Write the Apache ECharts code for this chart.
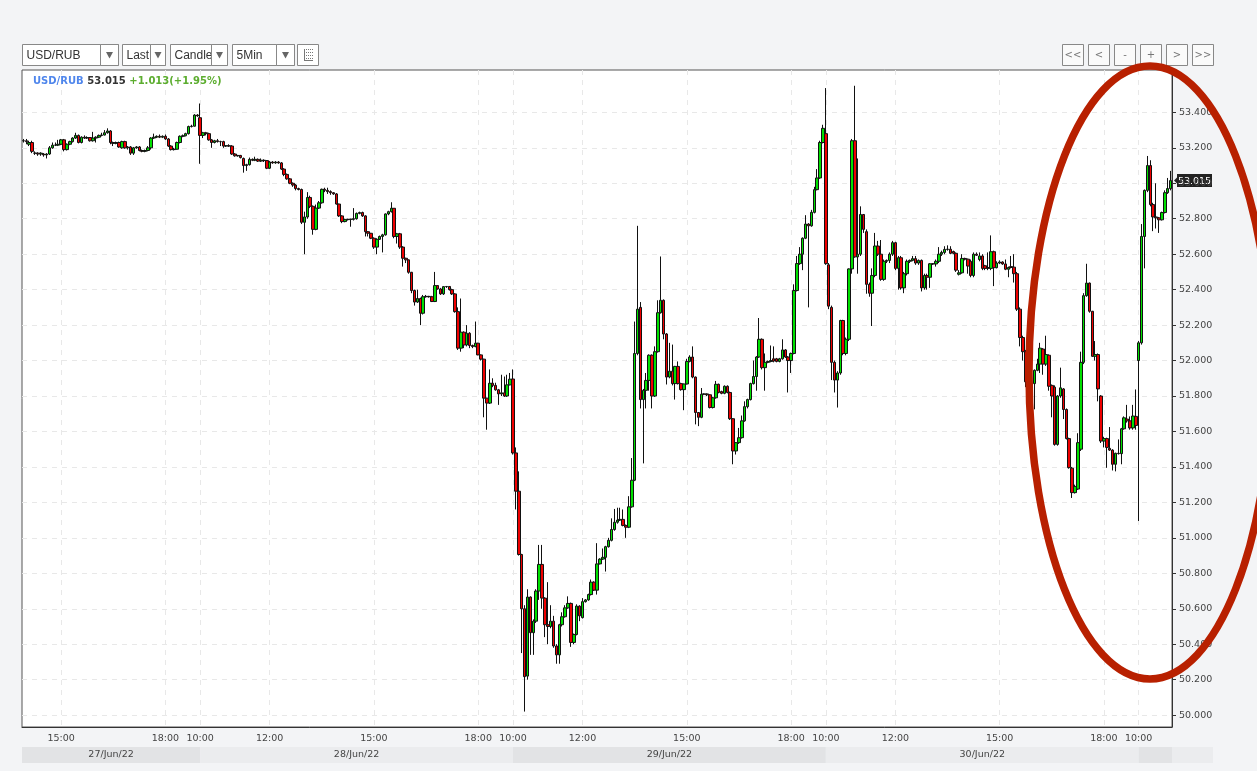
<!DOCTYPE html>
<html>
<head>
<meta charset="utf-8">
<title>USD/RUB 5Min</title>
<script src="https://cdn.jsdelivr.net/npm/echarts@6/dist/echarts.min.js"></script>
<style>
html, body { margin: 0; padding: 0; background: #f3f4f6; }
#main { width: 1257px; height: 771px; }
</style>
</head>
<body>
<div id="main"></div>
<script>
var symbolName = 'USD/RUB';
var lastPrice = 53.015;
var changeText = '+1.013(+1.95%)';

// [date label, date, first bar, number of 5 min bars]
var sessions = [
  ['27/Jun/22', '2022-06-27', '13:55', 61],
  ['28/Jun/22', '2022-06-28', '10:00', 108],
  ['29/Jun/22', '2022-06-29', '10:00', 108],
  ['30/Jun/22', '2022-06-30', '10:00', 108],
  ['', '2022-07-01', '10:00', 12]
];
var timeLabels = ['10:00', '12:00', '15:00', '18:00'];
var priceTicks = [50.0, 50.2, 50.4, 50.6, 50.8, 51.0, 51.2, 51.4, 51.6, 51.8, 52.0, 52.2, 52.4, 52.6, 52.8, 53.0, 53.2, 53.4];

// candles: [open, close, low, high]
var jun27 = [
  [53.24,53.24,53.23,53.25],[53.24,53.235,53.22,53.25],[53.22,53.23,53.21,53.24],[53.23,53.18,53.17,53.24],
  [53.17,53.17,53.16,53.18],[53.17,53.165,53.155,53.175],[53.165,53.17,53.155,53.175],[53.165,53.16,53.15,53.17],
  [53.16,53.165,53.14,53.17],[53.165,53.20,53.16,53.21],[53.20,53.215,53.195,53.23],[53.215,53.215,53.21,53.23],
  [53.215,53.22,53.21,53.245],[53.22,53.245,53.215,53.25],[53.245,53.19,53.18,53.25],[53.19,53.22,53.185,53.225],
  [53.22,53.235,53.215,53.24],[53.235,53.255,53.23,53.26],[53.255,53.27,53.25,53.285],[53.27,53.23,53.225,53.275],
  [53.23,53.26,53.225,53.265],[53.26,53.255,53.25,53.27],[53.255,53.258,53.25,53.265],[53.258,53.24,53.235,53.26],
  [53.24,53.255,53.235,53.29],[53.255,53.26,53.23,53.265],[53.26,53.27,53.255,53.275],[53.27,53.272,53.265,53.285],
  [53.272,53.285,53.27,53.30],[53.285,53.295,53.28,53.31],[53.295,53.23,53.22,53.30],[53.23,53.225,53.21,53.235],
  [53.225,53.23,53.22,53.235],[53.23,53.205,53.20,53.235],[53.20,53.235,53.195,53.24],[53.235,53.20,53.195,53.24],
  [53.20,53.205,53.19,53.21],[53.205,53.17,53.16,53.21],[53.17,53.20,53.16,53.205],[53.20,53.205,53.195,53.21],
  [53.205,53.185,53.18,53.21],[53.185,53.18,53.175,53.19],[53.18,53.185,53.175,53.19],[53.185,53.20,53.18,53.21],
  [53.20,53.255,53.19,53.26],[53.255,53.26,53.25,53.28],[53.26,53.265,53.255,53.27],[53.265,53.26,53.255,53.275],
  [53.26,53.265,53.255,53.27],[53.265,53.25,53.245,53.275],[53.25,53.21,53.205,53.255],[53.21,53.19,53.185,53.215],
  [53.19,53.192,53.185,53.20],[53.192,53.23,53.19,53.235],[53.23,53.265,53.225,53.27],[53.265,53.268,53.26,53.275],
  [53.268,53.28,53.265,53.285],[53.28,53.32,53.275,53.325],[53.32,53.322,53.315,53.33],[53.322,53.385,53.32,53.39],
  [53.385,53.38,53.375,53.39]
];
var jun28 = [
  [53.37,53.27,53.11,53.45],[53.27,53.285,53.255,53.29],[53.285,53.28,53.27,53.29],[53.28,53.245,53.24,53.285],
  [53.245,53.23,53.20,53.25],[53.23,53.24,53.225,53.245],[53.24,53.235,53.23,53.25],[53.235,53.235,53.21,53.24],
  [53.235,53.21,53.20,53.24],[53.21,53.212,53.205,53.215],[53.212,53.21,53.205,53.22],[53.21,53.165,53.16,53.215],
  [53.165,53.155,53.15,53.17],[53.155,53.157,53.15,53.16],[53.157,53.145,53.14,53.16],[53.14,53.10,53.06,53.145],
  [53.10,53.105,53.07,53.11],[53.105,53.135,53.10,53.145],[53.135,53.13,53.125,53.14],[53.13,53.135,53.125,53.15],
  [53.135,53.125,53.12,53.14],[53.125,53.13,53.12,53.14],[53.13,53.128,53.12,53.135],[53.128,53.085,53.08,53.13],
  [53.085,53.12,53.08,53.125],[53.12,53.115,53.11,53.125],[53.115,53.12,53.11,53.125],[53.12,53.115,53.11,53.125],
  [53.115,53.08,53.075,53.12],[53.08,53.05,53.04,53.085],[53.05,53.025,53.02,53.055],[53.025,53.0,52.995,53.03],
  [53.0,52.99,52.98,53.005],[52.99,52.97,52.96,52.995],[52.97,52.965,52.96,52.975],[52.965,52.78,52.77,52.97],
  [52.78,52.81,52.60,52.84],[52.81,52.92,52.80,52.95],[52.92,52.87,52.86,52.93],[52.87,52.74,52.71,52.875],
  [52.74,52.86,52.735,52.88],[52.86,52.89,52.855,52.90],[52.89,52.966,52.885,52.97],[52.966,52.96,52.95,52.975],
  [52.96,52.953,52.94,52.975],[52.953,52.947,52.935,52.96],[52.947,52.94,52.935,52.95],[52.94,52.883,52.88,52.945],
  [52.883,52.816,52.81,52.885],[52.816,52.784,52.775,52.82],[52.784,52.795,52.78,52.80],[52.795,52.797,52.79,52.80],
  [52.797,52.797,52.755,52.80],[52.797,52.80,52.79,52.86],[52.80,52.83,52.795,52.835],[52.83,52.835,52.825,52.84],
  [52.835,52.816,52.81,52.84],[52.816,52.727,52.70,52.82],[52.727,52.718,52.70,52.73],[52.718,52.69,52.685,52.72],
  [52.69,52.64,52.63,52.695],[52.64,52.684,52.60,52.69],[52.684,52.70,52.68,52.705],[52.70,52.709,52.61,52.715],
  [52.709,52.827,52.705,52.83],[52.827,52.84,52.82,52.845],[52.84,52.859,52.835,52.893],[52.859,52.70,52.69,52.86],
  [52.70,52.715,52.66,52.72],[52.715,52.64,52.63,52.72],[52.64,52.577,52.53,52.645],[52.577,52.568,52.55,52.58],
  [52.568,52.498,52.49,52.57],[52.498,52.395,52.38,52.50],[52.395,52.33,52.31,52.40],[52.33,52.35,52.325,52.40],
  [52.35,52.267,52.20,52.355],[52.267,52.36,52.26,52.37],[52.36,52.362,52.355,52.37],[52.362,52.36,52.355,52.365],
  [52.36,52.333,52.33,52.365],[52.333,52.423,52.33,52.50],[52.423,52.404,52.40,52.425],[52.404,52.376,52.37,52.41],
  [52.376,52.417,52.37,52.42],[52.417,52.418,52.41,52.42],[52.418,52.40,52.395,52.42],[52.40,52.376,52.37,52.405],
  [52.376,52.276,52.27,52.38],[52.276,52.07,52.06,52.30],[52.07,52.16,52.05,52.35],[52.16,52.088,52.07,52.165],
  [52.088,52.154,52.08,52.20],[52.154,52.085,52.07,52.16],[52.085,52.079,52.07,52.09],[52.079,52.098,52.075,52.22],
  [52.098,52.032,52.03,52.10],[52.032,52.008,52.0,52.035],[52.008,51.788,51.68,52.01],[51.788,51.76,51.61,51.79],
  [51.76,51.872,51.755,51.95],[51.872,51.86,51.85,51.90],[51.86,51.835,51.83,51.875],[51.835,51.812,51.75,51.84],
  [51.812,51.818,51.80,51.92],[51.818,51.80,51.795,51.91],[51.80,51.863,51.795,51.92],[51.863,51.895,51.86,51.93]
];
var jun29 = [
  [51.896,51.479,51.47,51.95],[51.479,51.263,51.16,51.51],[51.263,50.906,50.90,51.375],[50.906,50.60,50.35,50.91],
  [50.60,50.217,50.02,50.62],[50.22,50.666,50.20,50.71],[50.666,50.465,50.34,50.67],[50.465,50.53,50.34,50.54],
  [50.53,50.70,50.52,50.71],[50.70,50.85,50.65,50.96],[50.85,50.66,50.60,50.96],[50.66,50.51,50.44,50.665],
  [50.51,50.50,50.40,50.75],[50.50,50.53,50.49,50.62],[50.53,50.39,50.38,50.56],[50.39,50.34,50.29,50.40],
  [50.34,50.51,50.29,50.515],[50.51,50.555,50.50,50.58],[50.555,50.605,50.55,50.62],[50.605,50.63,50.60,50.67],
  [50.63,50.41,50.385,50.635],[50.41,50.455,50.40,50.46],[50.455,50.615,50.45,50.625],[50.615,50.56,50.53,50.62],
  [50.55,50.64,50.545,50.66],[50.64,50.65,50.635,50.655],[50.65,50.68,50.645,50.685],[50.68,50.75,50.675,50.765],
  [50.75,50.705,50.70,50.755],[50.705,50.853,50.68,50.97],[50.853,50.88,50.85,50.885],[50.88,50.89,50.875,50.94],
  [50.89,50.95,50.81,50.955],[50.95,50.986,50.945,51.0],[50.986,51.047,50.98,51.11],[51.047,51.088,51.04,51.163],
  [51.088,51.10,51.08,51.17],[51.10,51.104,51.095,51.17],[51.104,51.07,51.065,51.16],[51.07,51.06,51.0,51.075],
  [51.06,51.175,51.055,51.235],[51.175,51.325,51.17,51.45],[51.325,52.04,51.32,52.22],[52.04,52.29,52.03,52.76],
  [52.30,51.78,51.73,52.33],[51.78,51.832,51.42,51.84],[51.832,51.888,51.73,51.93],[51.888,52.03,51.83,52.035],
  [52.03,51.80,51.73,52.035],[51.80,52.05,51.795,52.08],[52.05,52.27,52.045,52.34],[52.27,52.34,52.265,52.587],
  [52.34,52.15,52.12,52.345],[52.15,51.907,51.865,52.155],[51.907,51.94,51.90,52.10],[51.94,51.87,51.86,52.09],
  [51.87,51.967,51.78,51.97],[51.967,51.87,51.865,51.995],[51.87,51.836,51.83,51.875],[51.836,51.868,51.72,51.87],
  [51.868,51.995,51.865,52.01],[51.995,52.02,51.99,52.03],[52.02,51.907,51.90,52.08],[51.907,51.707,51.64,51.91],
  [51.707,51.68,51.63,51.71],[51.68,51.81,51.675,51.845],[51.81,51.812,51.805,51.815],[51.812,51.807,51.80,51.815],
  [51.807,51.735,51.73,51.81],[51.735,51.79,51.73,51.795],[51.79,51.866,51.785,51.885],[51.866,51.82,51.815,51.87],
  [51.825,51.815,51.81,51.83],[51.815,51.855,51.81,51.86],[51.855,51.82,51.815,51.86],[51.82,51.672,51.665,51.825],
  [51.672,51.49,51.415,51.675],[51.49,51.537,51.47,51.54],[51.537,51.565,51.53,51.62],[51.565,51.66,51.56,51.69],
  [51.66,51.74,51.655,51.77],[51.74,51.78,51.73,51.785],[51.78,51.87,51.775,51.875],[51.87,51.91,51.865,52.0],
  [51.91,52.02,51.83,52.025],[52.02,52.12,52.015,52.24],[52.12,51.96,51.95,52.125],[51.96,51.99,51.83,52.04],
  [51.99,51.995,51.985,52.0],[51.995,52.0,51.99,52.085],[52.01,51.997,51.99,52.08],[52.01,51.995,51.99,52.015],
  [51.995,52.01,51.99,52.015],[52.01,52.06,52.005,52.12],[52.06,52.02,52.015,52.065],[52.02,52.0,51.82,52.025],
  [52.0,52.04,51.93,52.045],[52.04,52.395,52.035,52.43],[52.395,52.547,52.39,52.59],[52.547,52.60,52.54,52.64],
  [52.60,52.69,52.51,52.695],[52.69,52.77,52.685,52.82],[52.77,52.76,52.30,52.775],[52.76,52.836,52.755,52.85],
  [52.836,52.964,52.83,52.98],[52.964,53.03,52.96,53.08],[53.03,53.23,53.025,53.24],[53.23,53.31,53.225,53.33]
];
var jun30 = [
  [53.28,52.547,52.54,53.537],[52.54,52.307,52.29,52.55],[52.30,51.99,51.89,52.31],[51.99,51.89,51.82,52.0],
  [51.89,51.93,51.735,51.94],[51.93,52.226,51.92,52.23],[52.226,52.04,52.03,52.23],[52.04,52.12,52.03,52.13],
  [52.12,52.517,52.11,52.52],[52.517,53.24,52.49,53.25],[53.24,52.585,52.58,53.55],[52.585,52.60,52.49,53.14],
  [52.60,52.824,52.59,52.87],[52.824,52.74,52.72,52.825],[52.727,52.43,52.377,52.74],[52.43,52.38,52.36,52.44],
  [52.38,52.48,52.195,52.52],[52.48,52.646,52.47,52.72],[52.646,52.60,52.59,52.675],[52.60,52.458,52.45,52.68],
  [52.458,52.56,52.45,52.57],[52.56,52.565,52.55,52.57],[52.565,52.60,52.55,52.61],[52.60,52.665,52.59,52.675],
  [52.665,52.52,52.51,52.67],[52.52,52.58,52.40,52.59],[52.58,52.41,52.40,52.59],[52.41,52.49,52.38,52.50],
  [52.49,52.56,52.48,52.57],[52.56,52.565,52.55,52.57],[52.565,52.575,52.56,52.59],[52.575,52.55,52.54,52.59],
  [52.55,52.565,52.54,52.57],[52.565,52.41,52.39,52.57],[52.41,52.48,52.40,52.49],[52.48,52.47,52.40,52.49],
  [52.47,52.546,52.41,52.55],[52.546,52.545,52.54,52.55],[52.545,52.56,52.53,52.57],[52.56,52.60,52.55,52.64],
  [52.60,52.61,52.59,52.62],[52.61,52.627,52.60,52.645],[52.627,52.628,52.62,52.65],[52.628,52.605,52.60,52.645],
  [52.615,52.605,52.60,52.62],[52.605,52.51,52.50,52.61],[52.487,52.495,52.48,52.51],[52.495,52.576,52.49,52.60],
  [52.576,52.572,52.565,52.58],[52.572,52.533,52.49,52.575],[52.56,52.48,52.47,52.57],[52.48,52.60,52.47,52.61],
  [52.60,52.594,52.59,52.61],[52.57,52.59,52.56,52.61],[52.59,52.52,52.51,52.60],[52.535,52.52,52.51,52.54],
  [52.525,52.52,52.51,52.61],[52.52,52.614,52.51,52.706],[52.614,52.524,52.42,52.62],[52.524,52.55,52.52,52.56],
  [52.55,52.556,52.545,52.565],[52.556,52.545,52.54,52.56],[52.545,52.515,52.51,52.57],[52.515,52.525,52.47,52.53],
  [52.53,52.525,52.52,52.59],[52.527,52.49,52.44,52.60],[52.49,52.29,52.28,52.50],[52.29,52.13,52.08,52.30],
  [52.13,52.05,52.0,52.14],[52.05,51.88,51.85,52.06],[51.88,51.74,51.70,51.89],[51.74,51.87,51.72,51.88],
  [51.87,51.945,51.725,51.95],[51.945,51.98,51.94,52.01],[51.98,52.07,51.93,52.10],[52.065,51.98,51.92,52.07],
  [51.98,52.034,51.97,52.14],[52.03,51.855,51.83,52.035],[51.86,51.80,51.68,51.865],[51.85,51.527,51.52,51.86],
  [51.527,51.80,51.52,51.805],[51.80,51.846,51.79,51.96],[51.84,51.724,51.67,51.845],[51.724,51.56,51.555,51.73],
  [51.56,51.396,51.39,51.565],[51.393,51.255,51.225,51.40],[51.255,51.29,51.25,51.30],[51.275,51.537,51.27,51.59],
  [51.50,51.99,51.49,52.05],[51.99,52.366,51.98,52.38],[52.366,52.437,52.36,52.546],[52.437,52.278,52.27,52.44],
  [52.278,52.024,52.02,52.28],[52.024,52.034,52.0,52.11],[52.034,51.84,51.77,52.04],[51.80,51.546,51.535,51.805],
  [51.546,51.56,51.51,51.57],[51.56,51.51,51.395,51.565],[51.505,51.495,51.49,51.625],[51.495,51.415,51.38,51.50],
  [51.415,51.477,51.375,51.48],[51.477,51.475,51.47,51.555],[51.475,51.615,51.415,51.62],[51.615,51.677,51.61,51.685],
  [51.67,51.66,51.65,51.75],[51.66,51.62,51.61,51.685],[51.62,51.687,51.61,51.75],[51.685,51.634,51.61,51.837]
];
var jul01 = [
  [52.0,52.1,51.095,52.11],[52.10,52.70,52.09,52.77],[52.70,52.96,52.52,52.965],[52.96,53.10,52.95,53.154],
  [53.10,52.88,52.87,53.13],[52.88,52.81,52.73,52.89],[52.81,52.805,52.745,53.0],[52.805,52.794,52.72,52.81],
  [52.794,52.835,52.79,52.84],[52.835,52.947,52.83,52.96],[52.947,52.97,52.94,53.03],[52.97,53.015,52.96,53.07]
];

var ohlc = jun27.concat(jun28, jun29, jun30, jul01);

function pad(n) { return (n < 10 ? '0' : '') + n; }

var categories = [];
var dayStart = [];
sessions.forEach(function (s) {
  dayStart.push(categories.length);
  var hm = s[2].split(':');
  var m = +hm[0] * 60 + +hm[1];
  for (var k = 0; k < s[3]; k++, m += 5) {
    categories.push(s[1] + ' ' + pad(Math.floor(m / 60)) + ':' + pad(m % 60));
  }
});

function isLabelTime(index, value) {
  var v = value || categories[index];
  return timeLabels.indexOf(v.slice(11)) >= 0;
}

var font = 'DejaVu Sans';
var uiFont = 'Liberation Sans';

// toolbar boxes: x, width, arrow divider x, label
function selectBox(x, w, div, label) {
  var top = 44.5, h = 21;
  var cx = div + (x + w - div) / 2;
  return [
    { type: 'rect', shape: { x: x, y: top, width: w, height: h }, style: { fill: '#fff', stroke: '#888', lineWidth: 1 } },
    { type: 'text', x: x + 4, y: top + h / 2 + 0.5, style: { text: label, fill: '#333', font: '12px ' + uiFont, verticalAlign: 'middle' } },
    { type: 'rect', shape: { x: div, y: top, width: x + w - div, height: h }, style: { fill: '#fff', stroke: '#888', lineWidth: 1 } },
    { type: 'polygon', shape: { points: [[cx - 3.5, top + 7.5], [cx + 3.5, top + 7.5], [cx, top + 14]] }, style: { fill: '#666' } }
  ];
}

function navButton(x, label) {
  return [
    { type: 'rect', shape: { x: x, y: 44.5, width: 21, height: 21 }, style: { fill: '#fafafa', stroke: '#888', lineWidth: 1 } },
    { type: 'text', x: x + 10.5, y: 55.5, style: { text: label, fill: '#777', font: '10px ' + font, align: 'center', verticalAlign: 'middle' } }
  ];
}

var toolbar = [].concat(
  selectBox(22.5, 96, 100.5, symbolName),
  selectBox(122.5, 43, 150.5, 'Last'),
  selectBox(170.5, 57, 211.5, 'Candle'),
  selectBox(232.5, 62, 276.5, '5Min'),
  [{ type: 'rect', shape: { x: 297.5, y: 44.5, width: 21, height: 21 }, style: { fill: '#fff', stroke: '#888', lineWidth: 1 } },
   { type: 'line', shape: { x1: 304.5, y1: 49, x2: 304.5, y2: 61 }, style: { stroke: '#777', lineWidth: 1 } },
   { type: 'line', shape: { x1: 306, y1: 49.5, x2: 313, y2: 49.5 }, style: { stroke: '#777', lineWidth: 1, lineDash: [1, 1] } },
   { type: 'line', shape: { x1: 306, y1: 52.5, x2: 313, y2: 52.5 }, style: { stroke: '#777', lineWidth: 1, lineDash: [1, 1] } },
   { type: 'line', shape: { x1: 306, y1: 55.5, x2: 313, y2: 55.5 }, style: { stroke: '#777', lineWidth: 1, lineDash: [1, 1] } },
   { type: 'line', shape: { x1: 306, y1: 58.5, x2: 313, y2: 58.5 }, style: { stroke: '#777', lineWidth: 1, lineDash: [1, 1] } },
   { type: 'line', shape: { x1: 304, y1: 60.5, x2: 313, y2: 60.5 }, style: { stroke: '#777', lineWidth: 1 } }],
  navButton(1062.5, '<<'), navButton(1088.5, '<'), navButton(1114.5, '-'),
  navButton(1140.5, '+'), navButton(1166.5, '>'), navButton(1192.5, '>>')
);

var chart = echarts.init(document.getElementById('main'));

var option = {
  animation: false,
  backgroundColor: '#f3f4f6',
  textStyle: { fontFamily: font },
  grid: { left: 22, right: 85, top: 70, bottom: 44, show: true, backgroundColor: '#fff', borderColor: '#555', borderWidth: 1 },
  xAxis: {
    type: 'category',
    data: categories,
    boundaryGap: true,
    axisLine: { lineStyle: { color: '#333' } },
    axisTick: { alignWithLabel: true, length: 4, interval: isLabelTime, lineStyle: { color: '#333' } },
    axisLabel: { interval: isLabelTime, formatter: function (v) { return v.slice(11); }, color: '#444', fontSize: 9.5, margin: 7 },
    splitLine: { show: true, alignWithLabel: true, interval: isLabelTime, lineStyle: { color: '#e8e8e8', type: [5, 5] } }
  },
  yAxis: {
    type: 'value',
    position: 'right',
    min: 49.933,
    max: 53.639,
    axisLine: { show: true, lineStyle: { color: '#333' } },
    axisTick: { show: true, length: 4, customValues: priceTicks, lineStyle: { color: '#333' } },
    axisLabel: { customValues: priceTicks, formatter: function (v) { return v.toFixed(3); }, color: '#444', fontSize: 9.5, margin: 7 },
    splitLine: { show: true, lineStyle: { color: '#e8e8e8', type: [5, 5] } }
  },
  series: [{
    type: 'candlestick',
    name: symbolName,
    data: ohlc,
    barWidth: 3,
    itemStyle: { color: '#00e000', color0: '#ee0000', borderColor: '#111', borderColor0: '#111', borderWidth: 1 }
  }]
};
chart.setOption(option);

// date bands under the time axis, lined up with the first bar of each day
var gridRight = 1257 - 85;
var bands = [];
sessions.forEach(function (s, k) {
  var x0 = k === 0 ? 22 : chart.convertToPixel({ xAxisIndex: 0 }, dayStart[k]);
  var x1 = k < sessions.length - 1 ? chart.convertToPixel({ xAxisIndex: 0 }, dayStart[k + 1]) : gridRight;
  bands.push({ type: 'rect', shape: { x: x0, y: 747, width: x1 - x0, height: 16 }, style: { fill: k % 2 ? '#ebecee' : '#e2e3e5' } });
  if (s[0]) {
    bands.push({ type: 'text', x: (x0 + x1) / 2, y: 755, style: { text: s[0], fill: '#444', font: '9.5px ' + font, align: 'center', verticalAlign: 'middle' } });
  }
});
bands.push({ type: 'rect', shape: { x: gridRight, y: 747, width: 1213 - gridRight, height: 16 }, style: { fill: '#ebecee' } });

// last price tag on the price axis
var yLast = chart.convertToPixel({ yAxisIndex: 0 }, lastPrice);
var priceTag = [
  { type: 'polygon', shape: { points: [[1174, yLast], [1178, yLast - 4], [1178, yLast + 4]] }, style: { fill: '#222' } },
  { type: 'rect', shape: { x: 1177, y: yLast - 6.5, width: 35, height: 13 }, style: { fill: '#222' } },
  { type: 'text', x: 1194.5, y: yLast + 0.5, style: { text: lastPrice.toFixed(3), fill: '#fff', font: '9.5px ' + font, align: 'center', verticalAlign: 'middle' } }
];

var header = {
  type: 'text', x: 33, y: 81,
  style: {
    text: '{a|' + symbolName + '} {b|' + lastPrice.toFixed(3) + '} {c|' + changeText + '}',
    font: 'bold 10px ' + font,
    verticalAlign: 'middle',
    rich: {
      a: { fill: '#4f86ec', font: 'bold 10px ' + font },
      b: { fill: '#333', font: 'bold 10px ' + font },
      c: { fill: '#5cad2f', font: 'bold 10px ' + font }
    }
  }
};

var ring = {
  type: 'ellipse', z: 100,
  shape: { cx: 1150, cy: 372.5, rx: 121, ry: 306.5 },
  style: { fill: 'none', stroke: '#b82000', lineWidth: 7.5 }
};

chart.setOption({ graphic: [].concat(toolbar, bands, priceTag, [header, ring]) });
</script>
</body>
</html>
